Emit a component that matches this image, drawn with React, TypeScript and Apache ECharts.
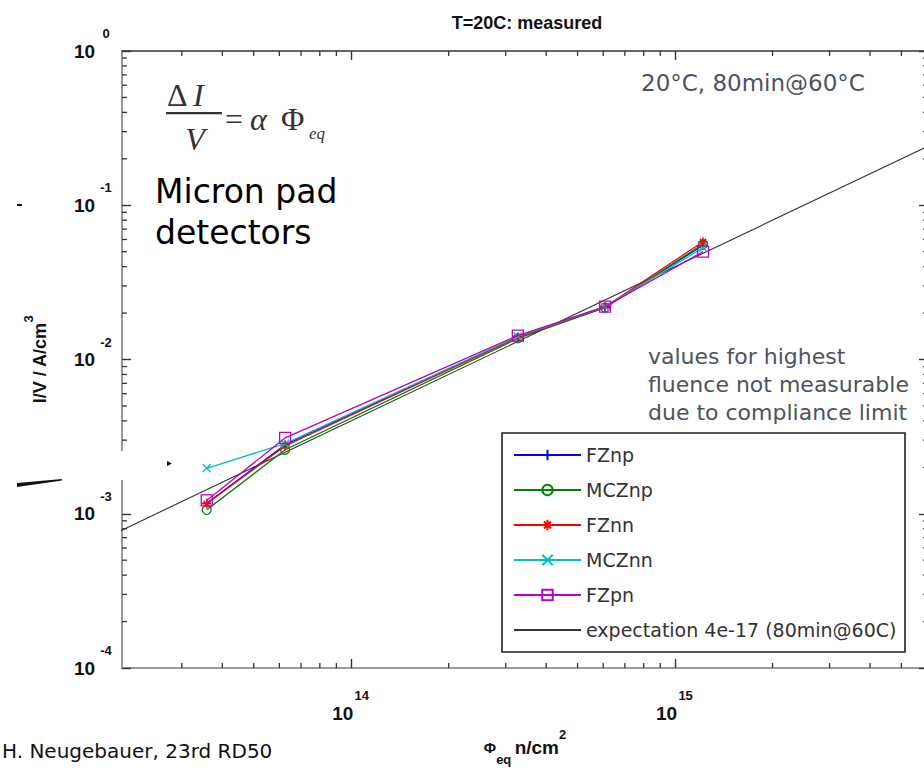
import React, { useEffect, useRef } from "react";
import * as echarts from "echarts";

// ---- data ----
const seriesNames = ["FZnp", "MCZnp", "FZnn", "MCZnn", "FZpn"];
const fluence = [3.58e13, 6.25e13, 3.27e14, 6.08e14, 1.22e15];
const FZnp = [1.17e-3, 2.8e-3, 1.4e-2, 2.18e-2, 5.5e-2];
const MCZnp = [1.06e-3, 2.6e-3, 1.37e-2, 2.17e-2, 5.6e-2];
const FZnn = [1.16e-3, 2.75e-3, 1.39e-2, 2.2e-2, 5.8e-2];
const MCZnn = [1.97e-3, 2.85e-3, 1.41e-2, 2.2e-2, 5.3e-2];
const FZpn = [1.22e-3, 3.1e-3, 1.43e-2, 2.2e-2, 5.0e-2];
const expectationName = "expectation 4e-17 (80min@60C)";
const expectationFluence = [1.9e13, 7e15];
const expectationValue = [7.6e-4, 0.28];

const xMajorTicks = [1e14, 1e15];
const yMajorTicks = [1, 1e-1, 1e-2, 1e-3, 1e-4];
const xMinorTicks = [
  3e13, 4e13, 5e13, 6e13, 7e13, 8e13, 9e13,
  2e14, 3e14, 4e14, 5e14, 6e14, 7e14, 8e14, 9e14,
  2e15, 3e15, 4e15, 5e15, 6e15,
];
const yMinorTicks = [
  2e-4, 3e-4, 4e-4, 5e-4, 6e-4, 7e-4, 8e-4, 9e-4,
  2e-3, 3e-3, 4e-3, 5e-3, 6e-3, 7e-3, 8e-3, 9e-3,
  2e-2, 3e-2, 4e-2, 5e-2, 6e-2, 7e-2, 8e-2, 9e-2,
  2e-1, 3e-1, 4e-1, 5e-1, 6e-1, 7e-1, 8e-1, 9e-1,
];

const X_MIN = 1.96e13;
const X_MAX = 6.04e15;
const Y_MIN = 1e-4;
const Y_MAX = 1;

const seriesValues = [FZnp, MCZnp, FZnn, MCZnn, FZpn];
const seriesColors = ["#0000ff", "#008000", "#ff0000", "#00bfbf", "#bf00bf"];
const PLUS = "path://M5,0L5,10M0,5L10,5";
const XMARK = "path://M0,0L10,10M10,0L0,10";
const STAR = "path://M5,0L5,10M0,5L10,5M1.6,1.6L8.4,8.4M8.4,1.6L1.6,8.4";
const BLANK = "path://M0,0L10,0L10,10L0,10Z";
const seriesSymbols = [PLUS, "circle", STAR, XMARK, "rect"];
const seriesSymbolSizes = [9, 9, 9, 8, 11];

const TICK_FONT = '"Liberation Sans Narrow", "Liberation Sans", Arial, sans-serif';
const SLIDE_FONT = '"DejaVu Sans", "Liberation Sans", sans-serif';

function isPow10(v: number) {
  const l = Math.log10(v);
  return Math.abs(l - Math.round(l)) < 1e-6;
}
function powLabel(v: number) {
  if (!isPow10(v)) return "";
  const e = Math.round(Math.log10(v));
  return `{b|10}{s|${e}}`;
}

export default function App() {
  const ref = useRef<HTMLDivElement>(null);
  useEffect(() => {
    if (!ref.current) return;
    const chart = echarts.init(ref.current, null, { renderer: "svg" });

    const labelRichY = {
      b: { fontFamily: TICK_FONT, fontWeight: "bold", fontSize: 19, lineHeight: 48, color: "#111" },
      s: { fontFamily: TICK_FONT, fontWeight: "bold", fontSize: 13, lineHeight: 12, verticalAlign: "top", width: 22, align: "left", color: "#111" },
    };
    const labelRichX = {
      b: { fontFamily: TICK_FONT, fontWeight: "bold", fontSize: 19, lineHeight: 48, color: "#111" },
      s: { fontFamily: TICK_FONT, fontWeight: "bold", fontSize: 13, lineHeight: 12, verticalAlign: "top", width: 17, align: "left", color: "#111" },
    };

    const tickStyle = { color: "#333", width: 1.4 };

    const dataSeries = seriesNames.map((name, i) => ({
      name,
      type: "line",
      xAxisIndex: 0,
      yAxisIndex: 0,
      data: fluence.map((f, j) => [f, seriesValues[i][j]]),
      symbol: seriesSymbols[i],
      symbolSize: seriesSymbolSizes[i],
      showSymbol: true,
      lineStyle: { color: seriesColors[i], width: 1.3 },
      itemStyle: { color: "rgba(0,0,0,0)", borderColor: seriesColors[i], borderWidth: 1.3 },
      emphasis: { disabled: true },
      z: 2 + i * 0.1,
    }));

    const option: any = {
      animation: false,
      backgroundColor: "#ffffff",
      title: {
        text: "T=20C: measured",
        left: 522,
        top: 9,
        textAlign: "center",
        textStyle: { fontFamily: TICK_FONT, fontWeight: "bold", fontSize: 18, color: "#111" },
      },
      grid: { left: 122, top: 51, width: 806, height: 617, containLabel: false },
      legend: {
        orient: "vertical",
        left: 513,
        top: 445,
        padding: 0,
        itemWidth: 67,
        itemHeight: 13,
        itemGap: 15,
        selectedMode: false,
        data: [...seriesNames, expectationName],
        textStyle: { fontFamily: SLIDE_FONT, fontSize: 19, color: "#333", lineHeight: 20 },
        z: 6,
      },
      xAxis: [
        {
          type: "log",
          position: "bottom",
          min: X_MIN,
          max: X_MAX,
          logBase: 10,
          axisLine: { show: true, lineStyle: { color: "#9a9a9a", width: 2 } },
          axisTick: { show: true, inside: true, length: 9, lineStyle: tickStyle, customValues: xMajorTicks },
          axisLabel: {
            show: true,
            margin: 21,
            customValues: xMajorTicks,
            formatter: (v: number) => powLabel(v),
            rich: labelRichX,
          },
          splitLine: { show: false },
          name: "{phi|Φ}{sub|eq} {b|n/cm}{sup|2}",
          nameLocation: "middle",
          nameGap: 60,
          nameTextStyle: {
            rich: {
              phi: { fontFamily: TICK_FONT, fontSize: 15, fontWeight: "bold", lineHeight: 38, color: "#111" },
              sub: { fontFamily: TICK_FONT, fontSize: 13, fontWeight: "bold", lineHeight: 13, verticalAlign: "bottom", color: "#111" },
              b: { fontFamily: TICK_FONT, fontSize: 19, fontWeight: "bold", lineHeight: 38, color: "#111" },
              sup: { fontFamily: TICK_FONT, fontSize: 13, fontWeight: "bold", lineHeight: 13, verticalAlign: "top", color: "#111" },
            },
          },
        },
        {
          type: "log",
          position: "top",
          min: X_MIN,
          max: X_MAX,
          logBase: 10,
          axisLine: { show: true, lineStyle: { color: "#333", width: 1.6 } },
          axisTick: { show: true, inside: true, length: 9, lineStyle: tickStyle, customValues: xMajorTicks },
          axisLabel: { show: false },
          splitLine: { show: false },
        },
      ],
      yAxis: [
        {
          type: "log",
          position: "left",
          min: Y_MIN,
          max: Y_MAX,
          logBase: 10,
          axisLine: { show: true, lineStyle: { color: "#9a9a9a", width: 2 } },
          axisTick: { show: true, inside: true, length: 9, lineStyle: tickStyle, customValues: yMajorTicks },
          axisLabel: {
            show: true,
            margin: 5,
            align: "right",
            customValues: yMajorTicks,
            formatter: (v: number) => powLabel(v),
            rich: labelRichY,
          },
          splitLine: { show: false },
          name: "{b|I/V / A/cm}{sup|3}",
          nameLocation: "middle",
          nameRotate: 90,
          nameGap: 64,
          nameTextStyle: {
            rich: {
              b: { fontFamily: TICK_FONT, fontSize: 18, fontWeight: "bold", lineHeight: 36, color: "#111" },
              sup: { fontFamily: TICK_FONT, fontSize: 13, fontWeight: "bold", lineHeight: 13, verticalAlign: "top", color: "#111" },
            },
          },
        },
        {
          type: "log",
          position: "right",
          min: Y_MIN,
          max: Y_MAX,
          logBase: 10,
          axisLine: { show: true, lineStyle: { color: "#333", width: 1.6 } },
          axisTick: { show: true, inside: true, length: 9, lineStyle: tickStyle, customValues: yMajorTicks },
          axisLabel: { show: false },
          splitLine: { show: false },
        },
      ],
      series: [
        {
          name: expectationName,
          type: "line",
          xAxisIndex: 0,
          yAxisIndex: 0,
          data: expectationFluence.map((f, j) => [f, expectationValue[j]]),
          symbol: BLANK,
          showSymbol: false,
          lineStyle: { color: "#333", width: 1.1 },
          itemStyle: { color: "rgba(0,0,0,0)", borderColor: "rgba(0,0,0,0)", borderWidth: 0 },
          emphasis: { disabled: true },
          z: 1.5,
        },
        ...dataSeries,
        {
          name: "xMinor",
          type: "custom",
          xAxisIndex: 0,
          yAxisIndex: 0,
          silent: true,
          data: xMinorTicks.map((v) => [v, 1]),
          renderItem: (params: any, api: any) => {
            const p = api.coord([api.value(0), api.value(1)]);
            const cs = params.coordSys;
            const st = { stroke: "#333", lineWidth: 1.3 };
            return {
              type: "group",
              children: [
                { type: "line", shape: { x1: p[0], y1: cs.y + cs.height, x2: p[0], y2: cs.y + cs.height - 5 }, style: st },
                { type: "line", shape: { x1: p[0], y1: cs.y, x2: p[0], y2: cs.y + 5 }, style: st },
              ],
            };
          },
          z: 1,
        },
        {
          name: "yMinor",
          type: "custom",
          xAxisIndex: 0,
          yAxisIndex: 0,
          silent: true,
          data: yMinorTicks.map((v) => [1e14, v]),
          renderItem: (params: any, api: any) => {
            const p = api.coord([api.value(0), api.value(1)]);
            const cs = params.coordSys;
            const st = { stroke: "#333", lineWidth: 1.3 };
            return {
              type: "group",
              children: [
                { type: "line", shape: { x1: cs.x, y1: p[1], x2: cs.x + 5, y2: p[1] }, style: st },
                { type: "line", shape: { x1: cs.x + cs.width, y1: p[1], x2: cs.x + cs.width - 5, y2: p[1] }, style: st },
              ],
            };
          },
          z: 1,
        },
      ],
      graphic: [
        // legend frame
        { type: "rect", z: 5, shape: { x: 502, y: 433, width: 403, height: 219 }, style: { fill: "#fff", stroke: "#222", lineWidth: 1.6 } },
        // formula  ΔI / V = α Φ_eq
        { type: "text", z: 7, style: { text: "Δ", x: 167, y: 95, font: '32px "Liberation Serif", serif', fill: "#333", verticalAlign: "middle" } },
        { type: "text", z: 7, style: { text: "I", x: 193, y: 95, font: 'italic 32px "Liberation Serif", serif', fill: "#333", verticalAlign: "middle" } },
        { type: "rect", z: 7, shape: { x: 166, y: 112, width: 56, height: 2.2 }, style: { fill: "#333" } },
        { type: "text", z: 7, style: { text: "V", x: 195, y: 139, font: 'italic 32px "Liberation Serif", serif', fill: "#333", align: "center", verticalAlign: "middle" } },
        { type: "text", z: 7, style: { text: "=", x: 225, y: 119, font: '32px "Liberation Serif", serif', fill: "#333", verticalAlign: "middle" } },
        { type: "text", z: 7, style: { text: "α", x: 250, y: 119, font: 'italic 32px "Liberation Serif", serif', fill: "#333", verticalAlign: "middle" } },
        { type: "text", z: 7, style: { text: "Φ", x: 281, y: 119, font: '32px "Liberation Serif", serif', fill: "#333", verticalAlign: "middle" } },
        { type: "text", z: 7, style: { text: "eq", x: 309, y: 133, font: 'italic 17px "Liberation Serif", serif', fill: "#333", verticalAlign: "middle" } },
        // slide annotations
        { type: "text", z: 7, style: { text: "Micron pad\ndetectors", x: 155, y: 171, font: `33px ${SLIDE_FONT}`, lineHeight: 41, fill: "#000", verticalAlign: "top" } },
        { type: "text", z: 7, style: { text: "20°C, 80min@60°C", x: 641, y: 83, font: `23px ${SLIDE_FONT}`, fill: "#4d5360", verticalAlign: "middle" } },
        { type: "text", z: 7, style: { text: "values for highest\nfluence not measurable\ndue to compliance limit", x: 648, y: 342, font: `22px ${SLIDE_FONT}`, lineHeight: 28, fill: "#4d5360", verticalAlign: "top" } },
        { type: "text", z: 7, style: { text: "H. Neugebauer, 23rd RD50", x: 2, y: 751, font: `20px ${SLIDE_FONT}`, fill: "#111", verticalAlign: "middle" } },
        // slide artefacts
        { type: "rect", z: 8, shape: { x: 110, y: 451, width: 24, height: 29 }, style: { fill: "#fff" } },
        { type: "polygon", z: 9, shape: { points: [[17, 483], [62, 479], [62, 480.5], [17, 487]] }, style: { fill: "#111" } },
        { type: "rect", z: 9, shape: { x: 17, y: 204, width: 5, height: 2 }, style: { fill: "#111" } },
        { type: "polygon", z: 9, shape: { points: [[167, 461], [172, 463.5], [167, 466]] }, style: { fill: "#111" } },
      ],
    };

    chart.setOption(option);
    return () => chart.dispose();
  }, []);

  return (
    <div style={{ position: "fixed", left: 0, top: 0, width: 924, height: 772, overflow: "hidden", background: "#fff" }}>
      <div ref={ref} style={{ width: 940, height: 772 }} />
    </div>
  );
}
